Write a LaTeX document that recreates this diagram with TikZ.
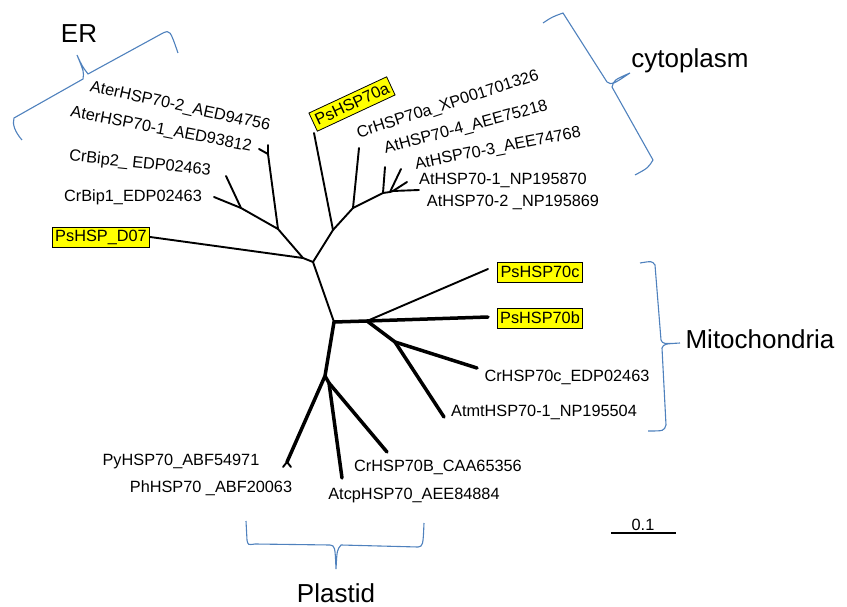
\documentclass[tikz,border=0pt]{standalone}
\usepackage{fontspec}
\setmainfont{Liberation Sans}
\begin{document}
\begin{tikzpicture}[x=1pt,y=-1pt,
    branch/.style={line width=1.9pt, line cap=round},
    thickbranch/.style={line width=3.5pt, line cap=round},
    taxon/.style={font=\fontsize{16.3}{19}\selectfont, inner sep=0pt},
    psbox/.style={taxon, fill=hlYellow, draw=black, line width=0.8pt, inner xsep=3pt, minimum height=20pt},
    compartment/.style={font=\fontsize{26}{30}\selectfont, inner sep=0pt},
    bracket/.style={draw=braceBlue, line width=1.1pt}]

    % Colours
    \definecolor{hlYellow}{HTML}{FFFF00}
    \definecolor{braceBlue}{HTML}{4F81BD}

    % Fix the page size
    \useasboundingbox (0,0) rectangle (847,607);

    % Internal nodes of the tree
    \coordinate (root) at (313,262);
    \coordinate (er0) at (303,258);
    \coordinate (er1) at (278,229);
    \coordinate (er2) at (268,154);
    \coordinate (er3) at (241,208);
    \coordinate (cy0) at (333,230);
    \coordinate (cy1) at (353,208);
    \coordinate (cy2) at (383,193);
    \coordinate (cy3) at (390,192);
    \coordinate (cy4) at (393,191);
    \coordinate (mt0) at (334,322);
    \coordinate (mt1) at (367,321);
    \coordinate (mt2) at (395,342);
    \coordinate (pl0) at (325,376);
    \coordinate (pl1) at (329,383);
    \coordinate (pl2) at (287,462);

    % Tips
    \coordinate (aterTwo) at (268,145);
    \coordinate (aterOne) at (259,149);
    \coordinate (bipTwo) at (226,176);
    \coordinate (bipOne) at (214,197);
    \coordinate (psATip) at (314,133);
    \coordinate (crATip) at (359,148);
    \coordinate (atFour) at (385,167);
    \coordinate (atThree) at (401,169);
    \coordinate (atOne) at (407,182);
    \coordinate (atTwo) at (419,190);
    \coordinate (psCTip) at (488,269);
    \coordinate (psBTip) at (488,317);
    \coordinate (crCTip) at (477,368);
    \coordinate (atmtTip) at (444,417);
    \coordinate (pyTip) at (283,467);
    \coordinate (phTip) at (291,467);
    \coordinate (atcpTip) at (342,478);
    \coordinate (crBTip) at (387,452);

    % Labels
    \node[taxon, rotate=-12.5] (aterTwoLabel) at (180,107) {AterHSP70-2\_AED94756};
    \node[taxon, rotate=-11] (aterOneLabel) at (161,130) {AterHSP70-1\_AED93812};
    \node[taxon, rotate=-6] (bipTwoLabel) at (140,164) {CrBip2\_ EDP02463};
    \node[taxon] (bipOneLabel) at (133,197) {CrBip1\_EDP02463};
    \node[psbox] (psD) at (101,237) {PsHSP\_D07};
    \node[psbox, rotate=25] (psA) at (352,104) {PsHSP70a};
    \node[taxon, rotate=18] (crALabel) at (448,105) {CrHSP70a\_XP001701326};
    \node[taxon, rotate=15] (atFourLabel) at (466,128) {AtHSP70-4\_AEE75218};
    \node[taxon, rotate=11] (atThreeLabel) at (498,149) {AtHSP70-3\_AEE74768};
    \node[taxon] (atOneLabel) at (503,180) {AtHSP70-1\_NP195870};
    \node[taxon] (atTwoLabel) at (513,202) {AtHSP70-2 \_NP195869};
    \node[psbox] (psC) at (540,272) {PsHSP70c};
    \node[psbox] (psB) at (540,318) {PsHSP70b};
    \node[taxon] (crCLabel) at (567,377) {CrHSP70c\_EDP02463};
    \node[taxon] (atmtLabel) at (544,412) {AtmtHSP70-1\_NP195504};
    \node[taxon] (crBLabel) at (438,467) {CrHSP70B\_CAA65356};
    \node[taxon] (atcpLabel) at (414,495) {AtcpHSP70\_AEE84884};
    \node[taxon] (pyLabel) at (181,461) {PyHSP70\_ABF54971};
    \node[taxon] (phLabel) at (211,488) {PhHSP70 \_ABF20063};

    % ER clade
    \draw[branch] (root) -- (er0) -- (er1) -- (er2) -- (aterTwo);
    \draw[branch] (er2) -- (aterOne);
    \draw[branch] (er1) -- (er3) -- (bipTwo);
    \draw[branch] (er3) -- (bipOne);
    \draw[branch] (er0) -- (psD.east);

    % Cytoplasm clade
    \draw[branch] (root) -- (cy0) -- (psATip);
    \draw[branch] (cy0) -- (cy1) -- (crATip);
    \draw[branch] (cy1) -- (cy2) -- (atFour);
    \draw[branch] (cy2) -- (cy3) -- (atThree);
    \draw[branch] (cy3) -- (cy4) -- (atOne);
    \draw[branch] (cy4) -- (atTwo);

    % Mitochondria clade
    \draw[branch] (root) -- (mt0);
    \draw[thickbranch] (mt0) -- (mt1) -- (psBTip);
    \draw[branch] (mt1) -- (psCTip);
    \draw[thickbranch] (mt1) -- (mt2) -- (crCTip);
    \draw[thickbranch] (mt2) -- (atmtTip);

    % Plastid clade
    \draw[thickbranch] (mt0) -- (pl0) -- (pl2);
    \draw[branch] (pl2) -- (pyTip);
    \draw[branch] (pl2) -- (phTip);
    \draw[thickbranch] (pl0) -- (pl1) -- (atcpTip);
    \draw[thickbranch] (pl1) -- (crBTip);

    % Brackets
    \draw[bracket] (22,140) .. controls (15,132) and (12,124) .. (14,118) -- (83,79)
        .. controls (84,72) .. (77,55) .. controls (82,66) .. (88,74) -- (163,33)
        .. controls (170,30) .. (178,53);
    \draw[bracket] (543,23) .. controls (552,17) .. (563,13) -- (607,82)
        .. controls (612,85) .. (630,73) .. controls (614,80) .. (612,87) -- (653,160)
        .. controls (648,168) .. (635,175);
    \draw[bracket] (640,263) .. controls (652,261) .. (655,265) -- (661,340)
        .. controls (663,344) .. (680,343) .. controls (664,344) .. (662,348) -- (666,425)
        .. controls (664,431) .. (648,431);
    \draw[bracket] (246,521) -- (247,540) .. controls (248,545) .. (255,544) -- (330,545)
        .. controls (335,546) .. (336,569) .. controls (337,550) .. (341,545) -- (418,547)
        .. controls (423,546) .. (424,523);

    % Compartment names
    \node[compartment] (erName) at (79,34) {ER};
    \node[compartment] (cytoName) at (690,61) {cytoplasm};
    \node[compartment] (mitoName) at (760,339) {Mitochondria};
    \node[compartment] (plastidName) at (336,593) {Plastid};

    % Scale bar
    \coordinate (scaleA) at (611,533);
    \coordinate (scaleB) at (676,533);
    \draw[line width=1.3pt] (scaleA) -- (scaleB);
    \node[taxon, anchor=base] (scaleLabel) at (643,530) {0.1};

\end{tikzpicture}
\end{document}
